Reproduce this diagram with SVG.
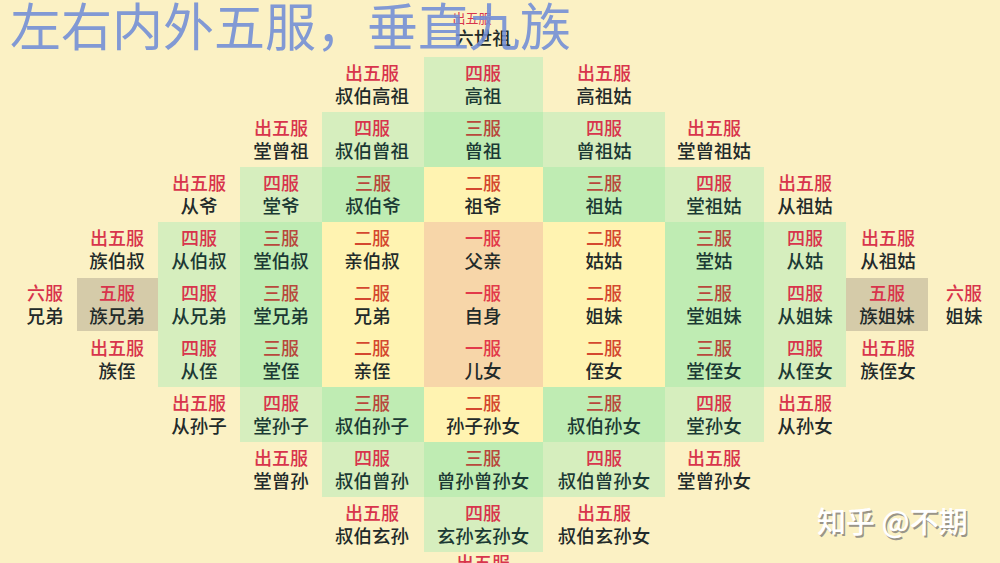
<svg xmlns="http://www.w3.org/2000/svg" width="1000" height="563" viewBox="0 0 1000 563">
<defs>
<style>
text{font-family:"Noto Sans CJK SC","Noto Sans",sans-serif;text-anchor:middle}
.lb{font-size:18px;font-weight:500}
.nm{font-size:18.5px;font-weight:500;fill:#222a2a}
.gn{fill:#1b3934}
.out,.si,.wu,.liu{fill:#d8344c}
.san{fill:#b8483c}
.er{fill:#d4482f}
.yi{fill:#e23a4a}
.c-si{fill:#d6eebe}
.c-san{fill:#bfecb3}
.c-er{fill:#fff3b1}
.c-yi{fill:#f7d6a9}
.c-wu{fill:#d5cba9}
.title{font-size:51px;font-weight:400;fill:#6f8cd6;fill-opacity:0.88;text-anchor:start}
.wm{font-size:29px;font-weight:500;fill:#ffffff;text-anchor:start}
.wms{font-size:29px;font-weight:500;fill:#9a9588;text-anchor:start}
</style>
</defs>
<rect x="0" y="0" width="1000" height="563" fill="#fbf1c4"/>
<g id="cells-bg">
<rect class="c-si" x="424" y="57" width="119" height="55"/>
<rect class="c-si" x="322" y="112" width="102" height="55"/>
<rect class="c-san" x="424" y="112" width="119" height="55"/>
<rect class="c-si" x="543" y="112" width="122" height="55"/>
<rect class="c-si" x="240" y="167" width="82" height="55"/>
<rect class="c-san" x="322" y="167" width="102" height="55"/>
<rect class="c-er" x="424" y="167" width="119" height="55"/>
<rect class="c-san" x="543" y="167" width="122" height="55"/>
<rect class="c-si" x="665" y="167" width="99" height="55"/>
<rect class="c-si" x="158" y="222" width="82" height="165"/>
<rect class="c-san" x="240" y="222" width="82" height="165"/>
<rect class="c-er" x="322" y="222" width="102" height="165"/>
<rect class="c-yi" x="424" y="222" width="119" height="165"/>
<rect class="c-er" x="543" y="222" width="122" height="165"/>
<rect class="c-san" x="665" y="222" width="99" height="165"/>
<rect class="c-si" x="764" y="222" width="82" height="165"/>
<rect class="c-wu" x="77" y="278" width="81" height="53"/>
<rect class="c-wu" x="846" y="278" width="82" height="53"/>
<rect class="c-si" x="240" y="387" width="82" height="55"/>
<rect class="c-san" x="322" y="387" width="102" height="55"/>
<rect class="c-er" x="424" y="387" width="119" height="55"/>
<rect class="c-san" x="543" y="387" width="122" height="55"/>
<rect class="c-si" x="665" y="387" width="99" height="55"/>
<rect class="c-si" x="322" y="442" width="102" height="55"/>
<rect class="c-san" x="424" y="442" width="119" height="55"/>
<rect class="c-si" x="543" y="442" width="122" height="55"/>
<rect class="c-si" x="424" y="497" width="119" height="55"/>
</g>
<g id="connectors"/>
<g id="n-liushizu"><text class="out" x="472" y="23" style="font-size:13px">出五服</text><text class="nm" x="483" y="45">六世祖</text></g>
<g id="n-shubogaozu"><text class="lb out" x="372" y="80">出五服</text><text class="nm" x="372" y="103">叔伯高祖</text></g>
<g id="n-gaozu"><text class="lb si" x="483" y="80">四服</text><text class="nm gn" x="483" y="103">高祖</text></g>
<g id="n-gaozugu"><text class="lb out" x="604" y="80">出五服</text><text class="nm" x="604" y="103">高祖姑</text></g>
<g id="n-tangcengzu"><text class="lb out" x="281" y="135">出五服</text><text class="nm" x="281" y="158">堂曾祖</text></g>
<g id="n-shubocengzu"><text class="lb si" x="372" y="135">四服</text><text class="nm gn" x="372" y="158">叔伯曾祖</text></g>
<g id="n-cengzu"><text class="lb san" x="483" y="135">三服</text><text class="nm gn" x="483" y="158">曾祖</text></g>
<g id="n-cengzugu"><text class="lb si" x="604" y="135">四服</text><text class="nm gn" x="604" y="158">曾祖姑</text></g>
<g id="n-tangcengzugu"><text class="lb out" x="714" y="135">出五服</text><text class="nm" x="714" y="158">堂曾祖姑</text></g>
<g id="n-congye"><text class="lb out" x="199" y="190">出五服</text><text class="nm" x="199" y="213">从爷</text></g>
<g id="n-tangye"><text class="lb si" x="281" y="190">四服</text><text class="nm gn" x="281" y="213">堂爷</text></g>
<g id="n-shuboye"><text class="lb san" x="373" y="190">三服</text><text class="nm gn" x="373" y="213">叔伯爷</text></g>
<g id="n-zuye"><text class="lb er" x="483" y="190">二服</text><text class="nm" x="483" y="213">祖爷</text></g>
<g id="n-zugu"><text class="lb san" x="604" y="190">三服</text><text class="nm gn" x="604" y="213">祖姑</text></g>
<g id="n-tangzugu"><text class="lb si" x="714" y="190">四服</text><text class="nm gn" x="714" y="213">堂祖姑</text></g>
<g id="n-congzugu1"><text class="lb out" x="805" y="190">出五服</text><text class="nm" x="805" y="213">从祖姑</text></g>
<g id="n-zuboshu"><text class="lb out" x="117" y="245">出五服</text><text class="nm" x="117" y="268">族伯叔</text></g>
<g id="n-congboshu"><text class="lb si" x="199" y="245">四服</text><text class="nm gn" x="199" y="268">从伯叔</text></g>
<g id="n-tangboshu"><text class="lb san" x="281" y="245">三服</text><text class="nm gn" x="281" y="268">堂伯叔</text></g>
<g id="n-qinboshu"><text class="lb er" x="372" y="245">二服</text><text class="nm" x="372" y="268">亲伯叔</text></g>
<g id="n-fuqin"><text class="lb yi" x="483" y="245">一服</text><text class="nm" x="483" y="268">父亲</text></g>
<g id="n-gugu"><text class="lb er" x="604" y="245">二服</text><text class="nm" x="604" y="268">姑姑</text></g>
<g id="n-tanggu"><text class="lb san" x="714" y="245">三服</text><text class="nm gn" x="714" y="268">堂姑</text></g>
<g id="n-conggu"><text class="lb si" x="805" y="245">四服</text><text class="nm gn" x="805" y="268">从姑</text></g>
<g id="n-congzugu2"><text class="lb out" x="888" y="245">出五服</text><text class="nm" x="888" y="268">从祖姑</text></g>
<g id="n-xiongdi6"><text class="lb liu" x="45" y="300">六服</text><text class="nm" x="45" y="323">兄弟</text></g>
<g id="n-zuxiongdi"><text class="lb wu" x="117" y="300">五服</text><text class="nm" x="117" y="323">族兄弟</text></g>
<g id="n-congxiongdi"><text class="lb si" x="199" y="300">四服</text><text class="nm gn" x="199" y="323">从兄弟</text></g>
<g id="n-tangxiongdi"><text class="lb san" x="281" y="300">三服</text><text class="nm gn" x="281" y="323">堂兄弟</text></g>
<g id="n-xiongdi"><text class="lb er" x="372" y="300">二服</text><text class="nm" x="372" y="323">兄弟</text></g>
<g id="n-zishen"><text class="lb yi" x="483" y="300">一服</text><text class="nm" x="483" y="323">自身</text></g>
<g id="n-jiemei"><text class="lb er" x="604" y="300">二服</text><text class="nm" x="604" y="323">姐妹</text></g>
<g id="n-tangjiemei"><text class="lb san" x="714" y="300">三服</text><text class="nm gn" x="714" y="323">堂姐妹</text></g>
<g id="n-congjiemei"><text class="lb si" x="805" y="300">四服</text><text class="nm gn" x="805" y="323">从姐妹</text></g>
<g id="n-zujiemei"><text class="lb wu" x="887" y="300">五服</text><text class="nm" x="887" y="323">族姐妹</text></g>
<g id="n-jiemei6"><text class="lb liu" x="964" y="300">六服</text><text class="nm" x="964" y="323">姐妹</text></g>
<g id="n-zuzhi"><text class="lb out" x="117" y="355">出五服</text><text class="nm" x="117" y="378">族侄</text></g>
<g id="n-congzhi"><text class="lb si" x="199" y="355">四服</text><text class="nm gn" x="199" y="378">从侄</text></g>
<g id="n-tangzhi"><text class="lb san" x="281" y="355">三服</text><text class="nm gn" x="281" y="378">堂侄</text></g>
<g id="n-qinzhi"><text class="lb er" x="372" y="355">二服</text><text class="nm" x="372" y="378">亲侄</text></g>
<g id="n-ernv"><text class="lb yi" x="483" y="355">一服</text><text class="nm" x="483" y="378">儿女</text></g>
<g id="n-zhinv"><text class="lb er" x="604" y="355">二服</text><text class="nm" x="604" y="378">侄女</text></g>
<g id="n-tangzhinv"><text class="lb san" x="714" y="355">三服</text><text class="nm gn" x="714" y="378">堂侄女</text></g>
<g id="n-congzhinv"><text class="lb si" x="805" y="355">四服</text><text class="nm gn" x="805" y="378">从侄女</text></g>
<g id="n-zuzhinv"><text class="lb out" x="888" y="355">出五服</text><text class="nm" x="888" y="378">族侄女</text></g>
<g id="n-congsunzi"><text class="lb out" x="199" y="410">出五服</text><text class="nm" x="199" y="433">从孙子</text></g>
<g id="n-tangsunzi"><text class="lb si" x="281" y="410">四服</text><text class="nm gn" x="281" y="433">堂孙子</text></g>
<g id="n-shubosunzi"><text class="lb san" x="372" y="410">三服</text><text class="nm gn" x="372" y="433">叔伯孙子</text></g>
<g id="n-sunzisunnv"><text class="lb er" x="483" y="410">二服</text><text class="nm" x="483" y="433">孙子孙女</text></g>
<g id="n-shubosunnv"><text class="lb san" x="604" y="410">三服</text><text class="nm gn" x="604" y="433">叔伯孙女</text></g>
<g id="n-tangsunnv"><text class="lb si" x="714" y="410">四服</text><text class="nm gn" x="714" y="433">堂孙女</text></g>
<g id="n-congsunnv"><text class="lb out" x="805" y="410">出五服</text><text class="nm" x="805" y="433">从孙女</text></g>
<g id="n-tangcengsun"><text class="lb out" x="281" y="465">出五服</text><text class="nm" x="281" y="488">堂曾孙</text></g>
<g id="n-shubocengsun"><text class="lb si" x="372" y="465">四服</text><text class="nm gn" x="372" y="488">叔伯曾孙</text></g>
<g id="n-cengsun"><text class="lb san" x="483" y="465">三服</text><text class="nm gn" x="483" y="488">曾孙曾孙女</text></g>
<g id="n-shubocengsunnv"><text class="lb si" x="604" y="465">四服</text><text class="nm gn" x="604" y="488">叔伯曾孙女</text></g>
<g id="n-tangcengsunnv"><text class="lb out" x="714" y="465">出五服</text><text class="nm" x="714" y="488">堂曾孙女</text></g>
<g id="n-shuboxuansun"><text class="lb out" x="372" y="520">出五服</text><text class="nm" x="372" y="543">叔伯玄孙</text></g>
<g id="n-xuansun"><text class="lb si" x="483" y="520">四服</text><text class="nm gn" x="483" y="543">玄孙玄孙女</text></g>
<g id="n-shuboxuansunnv"><text class="lb out" x="604" y="520">出五服</text><text class="nm" x="604" y="543">叔伯玄孙女</text></g>
<g id="n-bottom"><text class="lb out" x="483" y="570">出五服</text></g>
<g id="title"><text class="title" x="10" y="46">左右内外五服，垂直九族</text></g>
<g id="watermark"><text class="wms" x="818.5" y="534.5">知乎 @不期</text><text class="wm" x="817" y="533">知乎 @不期</text></g>
</svg>
